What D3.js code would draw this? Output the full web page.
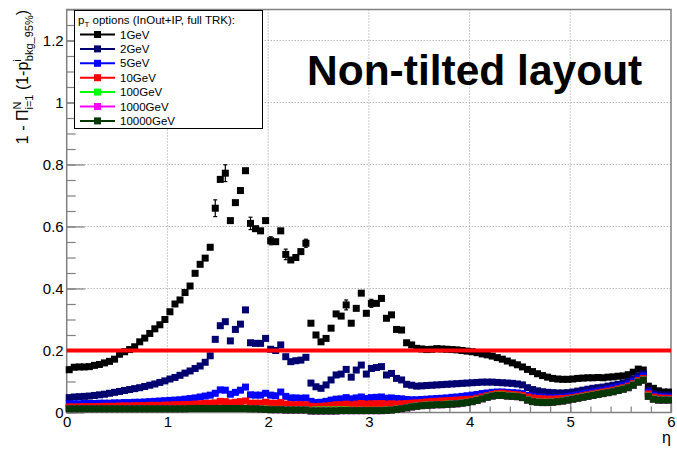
<!DOCTYPE html>
<html>
<head>
<meta charset="utf-8">
<script src="https://cdn.jsdelivr.net/npm/d3@7"></script>
<style>
  body { margin: 0; background: #fff; }
  text { font-family: "Liberation Sans", Arial, sans-serif; }
</style>
</head>
<body>
<div id="chart"></div>
<script>
// eta bins: 120 bins of width 0.05 between 0 and 6 (bin centres)
const eta = d3.range(120).map(i => 0.025 + 0.05 * i);

const pt1 = [
  0.138,0.146,0.147,0.147,0.148,0.152,0.155,0.160,0.165,0.172,
  0.188,0.196,0.203,0.212,0.228,0.240,0.255,0.270,0.283,0.300,
  0.325,0.350,0.363,0.387,0.408,0.449,0.478,0.498,0.533,0.659,
  0.752,0.772,0.619,0.677,0.716,0.780,0.610,0.593,0.586,0.619,
  0.554,0.551,0.586,0.510,0.492,0.500,0.519,0.546,0.288,0.250,
  0.228,0.239,0.272,0.318,0.311,0.347,0.288,0.336,0.385,0.320,
  0.352,0.352,0.368,0.304,0.315,0.268,0.266,0.225,0.218,0.207,
  0.205,0.203,0.204,0.206,0.205,0.204,0.203,0.202,0.200,0.198,
  0.196,0.193,0.189,0.186,0.182,0.177,0.172,0.166,0.160,0.154,
  0.147,0.139,0.132,0.125,0.119,0.114,0.110,0.108,0.107,0.107,
  0.108,0.110,0.111,0.112,0.112,0.113,0.112,0.114,0.115,0.117,
  0.118,0.122,0.130,0.140,0.137,0.085,0.078,0.070,0.066,0.066];

// stat. errors on the 1GeV points (only visible ones)
const pt1Err = {29: 0.027, 31: 0.027, 36: 0.02, 40: 0.013, 43: 0.017, 47: 0.013, 55: 0.016, 60: 0.013};

const pt2 = [
  0.048,0.050,0.051,0.052,0.053,0.055,0.057,0.059,0.062,0.065,
  0.068,0.071,0.074,0.077,0.080,0.084,0.088,0.092,0.097,0.102,
  0.108,0.113,0.120,0.127,0.134,0.142,0.150,0.162,0.183,0.236,
  0.280,0.293,0.231,0.268,0.285,0.331,0.225,0.223,0.223,0.239,
  0.204,0.200,0.218,0.180,0.164,0.167,0.169,0.178,0.095,0.083,
  0.078,0.089,0.105,0.121,0.124,0.139,0.114,0.137,0.153,0.124,
  0.142,0.145,0.148,0.121,0.126,0.110,0.105,0.091,0.088,0.085,
  0.086,0.087,0.088,0.089,0.090,0.091,0.092,0.093,0.094,0.095,
  0.096,0.097,0.098,0.098,0.098,0.097,0.096,0.095,0.094,0.092,
  0.089,0.080,0.074,0.070,0.067,0.065,0.064,0.063,0.063,0.064,
  0.066,0.069,0.072,0.075,0.078,0.080,0.082,0.085,0.088,0.091,
  0.095,0.100,0.108,0.118,0.124,0.072,0.062,0.057,0.056,0.056];

const pt5 = [
  0.028,0.028,0.028,0.029,0.029,0.029,0.030,0.030,0.030,0.031,
  0.031,0.032,0.032,0.033,0.033,0.034,0.035,0.036,0.037,0.038,
  0.039,0.040,0.041,0.043,0.045,0.047,0.050,0.053,0.056,0.062,
  0.073,0.072,0.059,0.065,0.072,0.082,0.057,0.056,0.056,0.062,
  0.056,0.054,0.066,0.052,0.047,0.047,0.046,0.047,0.036,0.032,
  0.033,0.036,0.040,0.043,0.044,0.048,0.044,0.047,0.050,0.045,
  0.048,0.049,0.050,0.046,0.047,0.045,0.044,0.042,0.041,0.041,
  0.042,0.043,0.044,0.045,0.046,0.047,0.049,0.050,0.052,0.054,
  0.056,0.058,0.061,0.063,0.065,0.066,0.066,0.065,0.064,0.063,
  0.061,0.055,0.052,0.050,0.049,0.048,0.048,0.048,0.049,0.051,
  0.054,0.057,0.060,0.063,0.066,0.069,0.072,0.075,0.079,0.083,
  0.087,0.092,0.100,0.110,0.118,0.066,0.055,0.051,0.050,0.050];

const pt10 = [
  0.018,0.018,0.018,0.019,0.019,0.019,0.019,0.020,0.020,0.020,
  0.021,0.021,0.021,0.022,0.022,0.022,0.023,0.023,0.023,0.024,
  0.024,0.025,0.025,0.026,0.026,0.027,0.028,0.029,0.030,0.031,
  0.036,0.035,0.031,0.033,0.035,0.037,0.030,0.030,0.030,0.033,
  0.030,0.029,0.032,0.027,0.025,0.025,0.025,0.025,0.020,0.019,
  0.020,0.021,0.023,0.025,0.025,0.027,0.025,0.027,0.029,0.027,
  0.028,0.028,0.029,0.027,0.028,0.027,0.028,0.029,0.030,0.031,
  0.032,0.034,0.035,0.036,0.037,0.038,0.039,0.040,0.041,0.042,
  0.043,0.046,0.050,0.054,0.058,0.061,0.062,0.060,0.058,0.057,
  0.055,0.050,0.047,0.045,0.044,0.043,0.043,0.044,0.045,0.046,
  0.048,0.051,0.054,0.057,0.060,0.063,0.066,0.069,0.072,0.076,
  0.080,0.085,0.093,0.103,0.110,0.060,0.050,0.047,0.046,0.046];

const pt100 = [
  0.012,0.012,0.012,0.012,0.012,0.012,0.012,0.012,0.012,0.012,
  0.012,0.012,0.012,0.012,0.012,0.012,0.012,0.012,0.012,0.012,
  0.012,0.012,0.012,0.012,0.013,0.013,0.013,0.013,0.013,0.013,
  0.013,0.013,0.013,0.013,0.013,0.013,0.012,0.012,0.012,0.011,
  0.010,0.010,0.010,0.009,0.009,0.009,0.009,0.009,0.007,0.008,
  0.008,0.008,0.008,0.008,0.008,0.008,0.007,0.007,0.007,0.007,
  0.007,0.007,0.007,0.008,0.009,0.011,0.013,0.016,0.019,0.021,
  0.023,0.024,0.025,0.026,0.026,0.027,0.028,0.029,0.031,0.033,
  0.036,0.040,0.045,0.050,0.054,0.056,0.056,0.054,0.053,0.052,
  0.049,0.041,0.036,0.034,0.033,0.033,0.034,0.036,0.038,0.041,
  0.044,0.047,0.050,0.053,0.056,0.059,0.062,0.065,0.068,0.072,
  0.076,0.081,0.089,0.099,0.105,0.053,0.044,0.041,0.041,0.041];

const pt1000 = [
  0.012,0.012,0.012,0.012,0.012,0.012,0.012,0.012,0.012,0.012,
  0.012,0.012,0.012,0.012,0.012,0.012,0.012,0.012,0.012,0.012,
  0.012,0.012,0.012,0.012,0.013,0.013,0.013,0.013,0.013,0.013,
  0.013,0.013,0.013,0.013,0.013,0.013,0.012,0.012,0.011,0.010,
  0.009,0.009,0.009,0.008,0.008,0.008,0.008,0.008,0.005,0.005,
  0.005,0.005,0.005,0.005,0.006,0.006,0.006,0.006,0.006,0.006,
  0.006,0.006,0.006,0.007,0.008,0.010,0.012,0.015,0.018,0.020,
  0.022,0.023,0.024,0.025,0.025,0.026,0.027,0.028,0.030,0.032,
  0.035,0.039,0.044,0.049,0.053,0.055,0.055,0.053,0.052,0.051,
  0.048,0.040,0.035,0.033,0.032,0.032,0.033,0.035,0.037,0.040,
  0.043,0.046,0.049,0.052,0.055,0.058,0.061,0.064,0.067,0.071,
  0.075,0.080,0.088,0.098,0.104,0.052,0.043,0.040,0.040,0.040];

const pt10000 = [
  0.012,0.012,0.012,0.012,0.012,0.012,0.012,0.012,0.012,0.012,
  0.012,0.012,0.012,0.012,0.012,0.012,0.012,0.012,0.012,0.012,
  0.012,0.012,0.012,0.012,0.013,0.013,0.013,0.013,0.013,0.013,
  0.013,0.013,0.013,0.013,0.013,0.013,0.012,0.012,0.011,0.010,
  0.009,0.009,0.009,0.008,0.008,0.008,0.008,0.008,0.005,0.005,
  0.005,0.005,0.005,0.005,0.006,0.006,0.006,0.006,0.006,0.006,
  0.006,0.006,0.006,0.007,0.008,0.010,0.012,0.015,0.018,0.020,
  0.022,0.023,0.024,0.025,0.025,0.026,0.027,0.028,0.030,0.032,
  0.035,0.039,0.044,0.049,0.053,0.055,0.055,0.053,0.052,0.051,
  0.048,0.040,0.035,0.033,0.032,0.032,0.033,0.035,0.037,0.040,
  0.043,0.046,0.049,0.052,0.055,0.058,0.061,0.064,0.067,0.071,
  0.075,0.080,0.088,0.098,0.104,0.052,0.043,0.040,0.040,0.040];

const seriesNames = ["1GeV", "2GeV", "5GeV", "10GeV", "100GeV", "1000GeV", "10000GeV"];
const seriesValues = [pt1, pt2, pt5, pt10, pt100, pt1000, pt10000];
const colors = ["#000000", "#000070", "#0000ff", "#ff0000", "#00ff00", "#ff00ff", "#053805"];

const xTicks = [0, 1, 2, 3, 4, 5, 6];
const yTicks = [0, 0.2, 0.4, 0.6, 0.8, 1, 1.2];
const threshold = 0.2;

const W = 677, H = 449;
const margin = {top: 9.5, right: 6, bottom: 36.5, left: 66.7};

const svg = d3.select("#chart")
  .append("svg")
    .attr("width", W)
    .attr("height", H);

const x = d3.scaleLinear([0, 6], [margin.left, W - margin.right]);
const y = d3.scaleLinear([0, 1.3], [H - margin.bottom, margin.top]);

// dotted grid
svg.append("g")
  .selectAll("line")
  .data(xTicks.slice(1, -1))
  .join("line")
    .attr("x1", d => x(d)).attr("x2", d => x(d))
    .attr("y1", y(0)).attr("y2", y(1.3))
    .attr("stroke", "#999").attr("stroke-dasharray", "1,2");
svg.append("g")
  .selectAll("line")
  .data(yTicks.slice(1))
  .join("line")
    .attr("x1", x(0)).attr("x2", x(6))
    .attr("y1", d => y(d)).attr("y2", d => y(d))
    .attr("stroke", "#999").attr("stroke-dasharray", "1,2");

// axes, ROOT style: ticks pointing inside
const xMinor = d3.range(0, 6.01, 0.2).map(d => +d.toFixed(1));
const yMinor = d3.range(0, 1.301, 0.05).map(d => +d.toFixed(2));

function styleAxis(g) {
  g.attr("font-size", 15);
  g.select(".domain").remove();
  g.selectAll("line").attr("stroke", "#808080").attr("stroke-width", 1.2);
  g.selectAll("text").attr("fill", "#000");
}

svg.append("g")
  .attr("transform", `translate(${margin.left},0)`)
  .call(d3.axisLeft(y).tickValues(yMinor).tickSize(-9).tickFormat(""))
  .call(styleAxis);
svg.append("g")
  .attr("transform", `translate(${margin.left},0)`)
  .call(d3.axisLeft(y).tickValues(yTicks).tickSize(-18).tickPadding(3).tickFormat(d3.format("~g")))
  .call(styleAxis);

svg.append("g")
  .attr("transform", `translate(0,${y(0)})`)
  .call(d3.axisBottom(x).tickValues(xMinor).tickSize(-6).tickFormat(""))
  .call(styleAxis);
svg.append("g")
  .attr("transform", `translate(0,${y(0)})`)
  .call(d3.axisBottom(x).tickValues(xTicks).tickSize(-12).tickPadding(4).tickFormat(d3.format("d")))
  .call(styleAxis);

// frame
svg.append("rect")
  .attr("x", x(0)).attr("y", y(1.3))
  .attr("width", x(6) - x(0)).attr("height", y(0) - y(1.3))
  .attr("fill", "none").attr("stroke", "#808080").attr("stroke-width", 1.5);

// error bars (1GeV only)
const errData = Object.keys(pt1Err).map(k => ({e: eta[+k], v: pt1[+k], err: pt1Err[k]}));
const eb = svg.append("g").attr("stroke", "#000").attr("stroke-width", 1.2);
eb.selectAll("line.v").data(errData).join("line").attr("class", "v")
  .attr("x1", d => x(d.e)).attr("x2", d => x(d.e))
  .attr("y1", d => y(d.v - d.err)).attr("y2", d => y(d.v + d.err));
eb.selectAll("line.t").data(errData).join("line").attr("class", "t")
  .attr("x1", d => x(d.e) - 2).attr("x2", d => x(d.e) + 2)
  .attr("y1", d => y(d.v + d.err)).attr("y2", d => y(d.v + d.err));
eb.selectAll("line.b").data(errData).join("line").attr("class", "b")
  .attr("x1", d => x(d.e) - 2).attr("x2", d => x(d.e) + 2)
  .attr("y1", d => y(d.v - d.err)).attr("y2", d => y(d.v - d.err));

// markers
const ms = 7;
seriesValues.forEach((vals, si) => {
  svg.append("g")
    .selectAll("rect")
    .data(vals.map((v, i) => ({e: eta[i], v: v})))
    .join("rect")
      .attr("x", d => x(d.e) - ms / 2)
      .attr("y", d => y(d.v) - ms / 2)
      .attr("width", ms)
      .attr("height", ms)
      .attr("fill", colors[si]);
});

// 95% threshold line
svg.append("line")
  .attr("x1", x(0)).attr("x2", x(6))
  .attr("y1", y(threshold)).attr("y2", y(threshold))
  .attr("stroke", "#ff0000").attr("stroke-width", 4);

// axis titles
svg.append("text")
  .attr("x", x(6)).attr("y", 443)
  .attr("text-anchor", "end")
  .style("font-size", "16px")
  .text("η");

const yl = svg.append("text")
  .attr("transform", "translate(28,10) rotate(-90)")
  .attr("text-anchor", "end")
  .style("font-size", "16px");
yl.append("tspan").text("1 - Π");
yl.append("tspan").attr("dy", -7).style("font-size", "11px").text("N");
yl.append("tspan").attr("dx", -8).attr("dy", 12).style("font-size", "11px").text("i=1");
yl.append("tspan").attr("dy", -5).text(" (1-p");
yl.append("tspan").attr("dy", -7).style("font-size", "11px").text("i");
yl.append("tspan").attr("dx", -2).attr("dy", 12).style("font-size", "11px").text("bkg_95%");
yl.append("tspan").attr("dy", -5).text(")");

// big label
svg.append("text")
  .attr("x", 307).attr("y", 85)
  .style("font-size", "42.5px")
  .style("font-weight", "bold")
  .text("Non-tilted layout");

// legend
const leg = svg.append("g");
leg.append("rect")
  .attr("x", 74.5).attr("y", 10.5).attr("width", 188).attr("height", 118)
  .attr("fill", "#fff").attr("stroke", "#000").attr("stroke-width", 1);
const head = leg.append("text").attr("x", 78).attr("y", 23.5).style("font-size", "11.5px");
head.append("tspan").text("p");
head.append("tspan").attr("dy", 3).style("font-size", "8px").text("T");
head.append("tspan").attr("dy", -3).text(" options (InOut+IP, full TRK):");

const rows = leg.selectAll("g.row")
  .data(seriesNames)
  .join("g").attr("class", "row")
  .attr("transform", (d, i) => `translate(0,${34.5 + i * 14.4})`);
rows.append("line")
  .attr("x1", 80).attr("x2", 115)
  .attr("stroke", (d, i) => colors[i]).attr("stroke-width", 2);
rows.append("rect")
  .attr("x", 97.5 - ms / 2).attr("y", -ms / 2)
  .attr("width", ms).attr("height", ms)
  .attr("fill", (d, i) => colors[i]);
rows.append("text")
  .attr("x", 120).attr("y", 4)
  .style("font-size", "11.5px")
  .text(d => d);
</script>
</body>
</html>
